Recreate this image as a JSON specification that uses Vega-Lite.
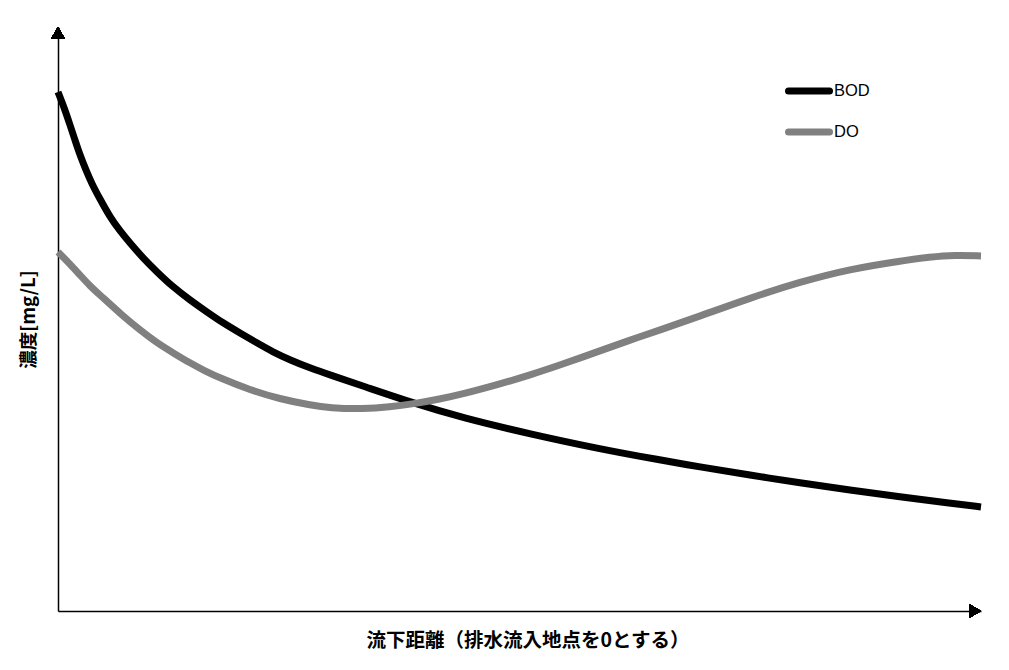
{
  "$schema": "https://vega.github.io/schema/vega-lite/v6.json",
  "width": 923,
  "height": 584,
  "autosize": "none",
  "padding": {"left": 58, "top": 27, "right": 28, "bottom": 59},
  "background": "white",
  "config": {"view": {"stroke": null}},
  "data": {"values": [
    {"series": "BOD", "x": 0, "y": 88.87},
    {"series": "BOD", "x": 0.76, "y": 85.79},
    {"series": "BOD", "x": 1.3, "y": 83.22},
    {"series": "BOD", "x": 1.84, "y": 80.65},
    {"series": "BOD", "x": 2.38, "y": 78.08},
    {"series": "BOD", "x": 3.03, "y": 75.51},
    {"series": "BOD", "x": 3.68, "y": 73.12},
    {"series": "BOD", "x": 4.55, "y": 70.55},
    {"series": "BOD", "x": 5.63, "y": 67.47},
    {"series": "BOD", "x": 6.72, "y": 65.07},
    {"series": "BOD", "x": 7.8, "y": 63.01},
    {"series": "BOD", "x": 9.21, "y": 60.45},
    {"series": "BOD", "x": 10.73, "y": 58.05},
    {"series": "BOD", "x": 12.46, "y": 55.48},
    {"series": "BOD", "x": 14.3, "y": 53.25},
    {"series": "BOD", "x": 16.14, "y": 51.2},
    {"series": "BOD", "x": 17.88, "y": 49.32},
    {"series": "BOD", "x": 19.72, "y": 47.6},
    {"series": "BOD", "x": 21.56, "y": 45.89},
    {"series": "BOD", "x": 23.29, "y": 44.35},
    {"series": "BOD", "x": 25.14, "y": 42.98},
    {"series": "BOD", "x": 27.3, "y": 41.61},
    {"series": "BOD", "x": 29.47, "y": 40.41},
    {"series": "BOD", "x": 33.04, "y": 38.53},
    {"series": "BOD", "x": 38.46, "y": 35.62},
    {"series": "BOD", "x": 43.88, "y": 33.05},
    {"series": "BOD", "x": 51.14, "y": 30.31},
    {"series": "BOD", "x": 58.72, "y": 27.74},
    {"series": "BOD", "x": 65.22, "y": 25.86},
    {"series": "BOD", "x": 69.56, "y": 24.66},
    {"series": "BOD", "x": 74.97, "y": 23.29},
    {"series": "BOD", "x": 80.39, "y": 21.92},
    {"series": "BOD", "x": 85.81, "y": 20.72},
    {"series": "BOD", "x": 91.22, "y": 19.52},
    {"series": "BOD", "x": 96.64, "y": 18.49},
    {"series": "BOD", "x": 100, "y": 17.81},
    {"series": "DO", "x": 0, "y": 61.47},
    {"series": "DO", "x": 1.3, "y": 59.42},
    {"series": "DO", "x": 2.38, "y": 57.53},
    {"series": "DO", "x": 3.47, "y": 55.65},
    {"series": "DO", "x": 4.55, "y": 54.11},
    {"series": "DO", "x": 7.04, "y": 50.51},
    {"series": "DO", "x": 8.88, "y": 48.12},
    {"series": "DO", "x": 10.73, "y": 45.89},
    {"series": "DO", "x": 12.68, "y": 44.01},
    {"series": "DO", "x": 14.3, "y": 42.47},
    {"series": "DO", "x": 15.93, "y": 41.1},
    {"series": "DO", "x": 17.55, "y": 39.9},
    {"series": "DO", "x": 20.8, "y": 37.84},
    {"series": "DO", "x": 24.05, "y": 36.3},
    {"series": "DO", "x": 27.3, "y": 35.27},
    {"series": "DO", "x": 29.47, "y": 34.76},
    {"series": "DO", "x": 33.04, "y": 34.59},
    {"series": "DO", "x": 35.97, "y": 34.93},
    {"series": "DO", "x": 38.46, "y": 35.45},
    {"series": "DO", "x": 41.39, "y": 36.3},
    {"series": "DO", "x": 43.88, "y": 37.16},
    {"series": "DO", "x": 47.89, "y": 38.87},
    {"series": "DO", "x": 51.14, "y": 40.41},
    {"series": "DO", "x": 54.39, "y": 42.12},
    {"series": "DO", "x": 58.4, "y": 44.35},
    {"series": "DO", "x": 61.97, "y": 46.4},
    {"series": "DO", "x": 65.22, "y": 48.12},
    {"series": "DO", "x": 69.56, "y": 50.51},
    {"series": "DO", "x": 74.97, "y": 53.6},
    {"series": "DO", "x": 80.39, "y": 56.34},
    {"series": "DO", "x": 85.81, "y": 58.56},
    {"series": "DO", "x": 91.22, "y": 59.93},
    {"series": "DO", "x": 94.47, "y": 60.62},
    {"series": "DO", "x": 97.18, "y": 60.96},
    {"series": "DO", "x": 100, "y": 60.79}
  ]},
  "layer": [
    {
      "mark": {"type": "line", "interpolate": "basis", "strokeWidth": 7, "strokeCap": "butt"},
      "encoding": {
        "x": {"field": "x", "type": "quantitative",
          "scale": {"domain": [0, 100], "nice": false, "zero": false},
          "axis": {"domain": true, "domainColor": "black", "domainWidth": 1.5, "ticks": false, "labels": false, "grid": false,
            "title": "流下距離（排水流入地点を0とする）", "titleFont": "Noto Sans CJK JP", "titleFontWeight": "bold", "titleFontSize": 19.5,
            "titleColor": "black", "titlePadding": 20, "titleBaseline": "top", "titleX": 469.5}},
        "y": {"field": "y", "type": "quantitative",
          "scale": {"domain": [0, 100], "nice": false, "zero": false},
          "axis": {"domain": true, "domainColor": "black", "domainWidth": 1.5, "ticks": false, "labels": false, "grid": false,
            "title": "濃度[mg/L]", "titleFont": "Noto Sans CJK JP", "titleFontWeight": "bold", "titleFontSize": 18.5,
            "titleColor": "black", "titlePadding": 20}},
        "color": {"field": "series", "type": "nominal",
          "scale": {"domain": ["BOD", "DO"], "range": ["#000000", "#808080"]},
          "legend": {"title": null, "orient": "none", "legendX": 727, "legendY": 40, "padding": 0,
            "symbolType": "stroke", "symbolSize": 1681, "symbolStrokeWidth": 7, "labelOffset": 1,
            "rowPadding": 3, "labelFont": "Liberation Sans", "labelFontSize": 16.5, "labelColor": "black",
            "encode": {"symbols": {"update": {"strokeCap": {"value": "round"}}}}}}
      }
    },
    {
      "mark": {"type": "point", "shape": "triangle-up", "filled": true, "color": "black", "opacity": 1, "size": 170, "strokeWidth": 0},
      "encoding": {"x": {"datum": 0, "type": "quantitative"}, "y": {"datum": 99.03, "type": "quantitative"}}
    },
    {
      "mark": {"type": "point", "shape": "triangle-right", "filled": true, "color": "black", "opacity": 1, "size": 170, "strokeWidth": 0},
      "encoding": {"x": {"datum": 99.39, "type": "quantitative"}, "y": {"datum": 0, "type": "quantitative"}}
    }
  ]
}
